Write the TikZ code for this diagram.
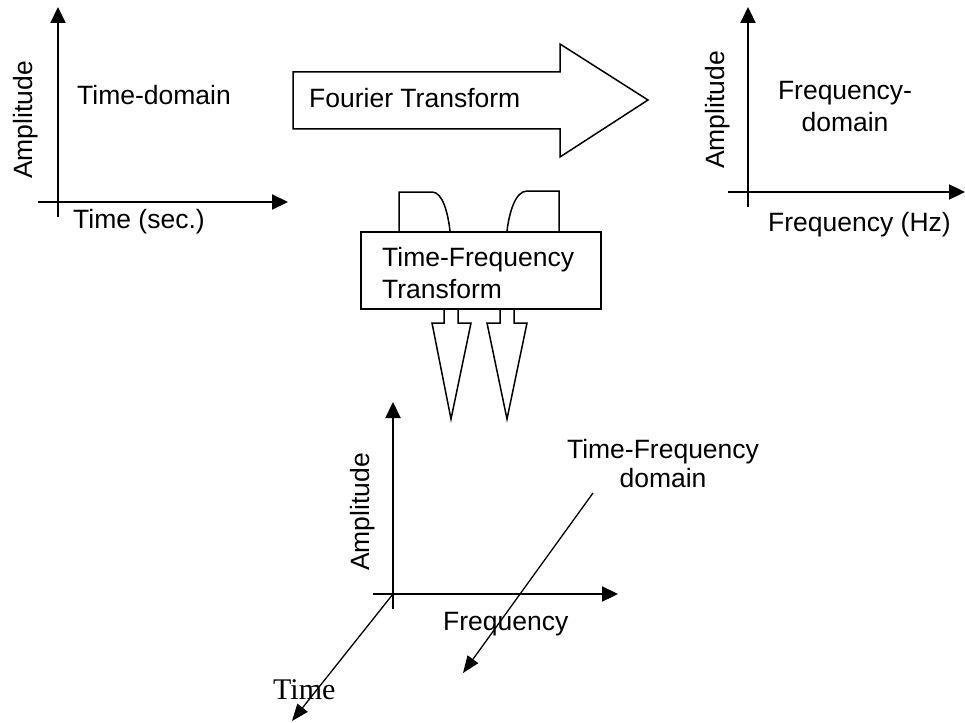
\documentclass[tikz,border=0pt]{standalone}
\usepackage{fontspec}
\setmainfont{Liberation Sans}
\newfontfamily\serifTime{Liberation Serif}
\usetikzlibrary{arrows.meta}
\tikzset{
  axis/.style={line width=2.2pt, -{Triangle[length=16pt,width=15pt]}},
  thinarrow/.style={line width=1.3pt, -{Triangle[length=17pt,width=13pt]}},
  outline/.style={line width=1.5pt, line join=miter},
  lbl/.style={inner sep=0pt, font=\fontsize{26.5}{32}\selectfont},
  vlbl/.style={lbl, rotate=90, anchor=center},
}
\begin{document}
\begin{tikzpicture}[x=1pt,y=-1pt]
\useasboundingbox (0,0) rectangle (965,722);

% ---- Time-domain axes (top left)
\coordinate (tdV0) at (58,217);
\coordinate (tdV1) at (58,7);
\coordinate (tdH0) at (38,202);
\coordinate (tdH1) at (288,202);
\draw[axis] (tdV0) -- (tdV1);
\draw[axis] (tdH0) -- (tdH1);
\node[vlbl] (tdAmp) at (26,120) {Amplitude};
\node[lbl, anchor=base west] (tdLabel) at (77,105) {Time-domain};
\node[lbl, anchor=base west] (tdTime) at (73,228) {Time (sec.)};

% ---- Fourier transform arrow
\draw[outline, fill=white] (293,72) -- (560,72) -- (560,44) -- (648,100) -- (560,157) -- (560,129) -- (293,129) -- cycle;
\node[lbl, anchor=base west] (ftLabel) at (309,108) {Fourier Transform};

% ---- Frequency-domain axes (top right)
\coordinate (fdV0) at (748,207);
\coordinate (fdV1) at (748,7);
\coordinate (fdH0) at (728,192);
\coordinate (fdH1) at (965,192);
\draw[axis] (fdV0) -- (fdV1);
\draw[axis] (fdH0) -- (fdH1);
\node[vlbl] (fdAmp) at (718,110) {Amplitude};
\node[lbl, anchor=base] (fdLabelA) at (845,100) {Frequency-};
\node[lbl, anchor=base] (fdLabelB) at (845,132) {domain};
\node[lbl, anchor=base west] (fdFreq) at (768,231) {Frequency (Hz)};

% ---- Time-frequency transform box
\draw[outline] (399,231) -- (399,192) -- (432,192) .. controls (443,192) and (448,214) .. (450,231);
\draw[outline] (507,231) .. controls (509,214) and (515,191) .. (527,191) -- (559,191) -- (559,231);
\node[outline, draw, fill=white, minimum width=240pt, minimum height=77pt, inner sep=0pt, anchor=north west] (tfBox) at (360,231) {};
\node[lbl, anchor=base west] (tfLabelA) at (382,266) {Time-Frequency};
\node[lbl, anchor=base west] (tfLabelB) at (382,298) {Transform};
\draw[outline] (444,308) -- (444,323) -- (432,323) -- (451,419) -- (471,323) -- (458,323) -- (458,308);
\draw[outline] (500,308) -- (500,323) -- (487,323) -- (507,419) -- (527,323) -- (514,323) -- (514,308);

% ---- Time-frequency domain axes (bottom)
\coordinate (tfV0) at (393,609);
\coordinate (tfV1) at (393,402);
\coordinate (tfH0) at (373,594);
\coordinate (tfH1) at (618,594);
\coordinate (tfO) at (393,594);
\coordinate (tfT) at (292,721);
\draw[axis] (tfV0) -- (tfV1);
\draw[axis] (tfH0) -- (tfH1);
\draw[thinarrow] (tfO) -- (tfT);
\node[vlbl] (tfAmp) at (363,512) {Amplitude};
\node[lbl, anchor=base west] (tfFreq) at (443,630) {Frequency};
\node[inner sep=0pt, anchor=base west, font=\serifTime\fontsize{30}{34}\selectfont] (tfTime) at (273,699) {Time};
\node[lbl, anchor=base] (tfdLabelA) at (663,458) {Time-Frequency};
\node[lbl, anchor=base] (tfdLabelB) at (663,487) {domain};
\coordinate (pointerStart) at (593,493);
\coordinate (pointerEnd) at (463,673);
\draw[thinarrow] (pointerStart) -- (pointerEnd);
\end{tikzpicture}
\end{document}
